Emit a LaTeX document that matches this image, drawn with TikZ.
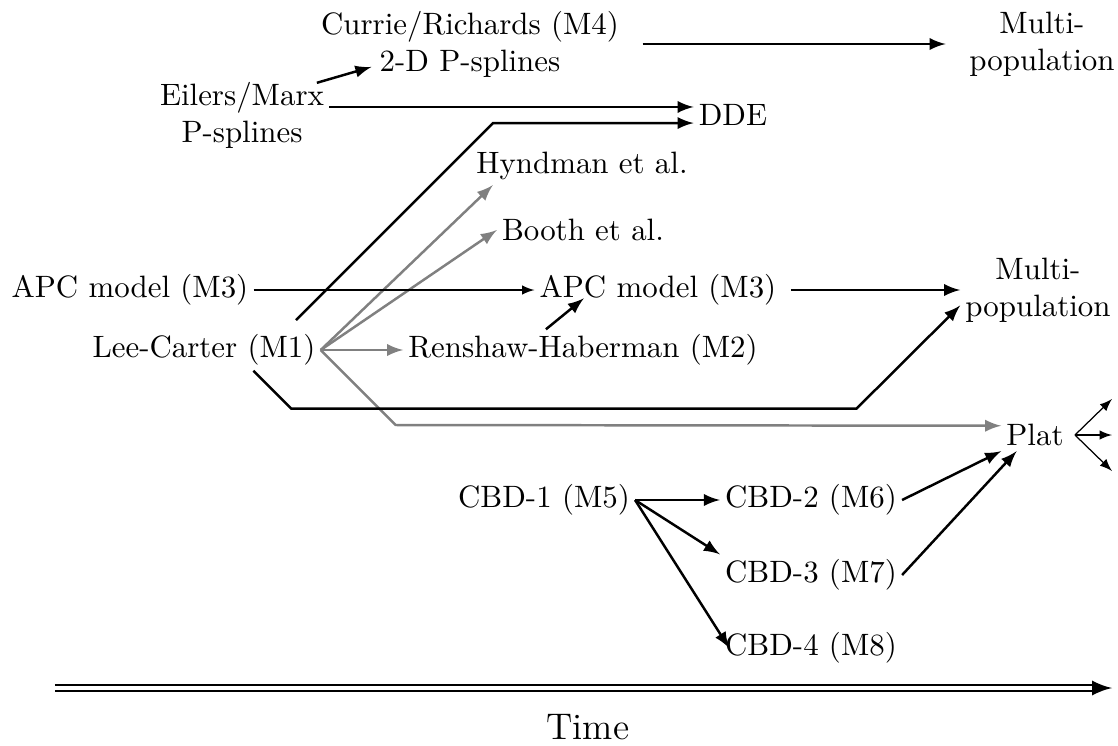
\documentclass[tikz,border=0pt]{standalone}
\usetikzlibrary{arrows}
\begin{document}
\begin{tikzpicture}[x=0.3236pt,y=-0.3236pt,inner sep=1.5pt,
  arr/.style={-latex,thick},
  garr/.style={-latex,thick,gray}]
\useasboundingbox (0,0) rectangle (1118,745);
% models
\node[align=center] (crps) at (470,44) {Currie/Richards (M4)\\2-D P-splines};
\node[align=center] (mpa) at (1042,44) {Multi-\\population};
\node[align=center] (eil) at (242,115) {Eilers/Marx\\P-splines};
\node (dde) at (733,115) {DDE};
\node (hyn) at (582,166) {Hyndman et al.};
\node (boo) at (583,230) {Booth et al.};
\node (apca) at (130,290) {APC model (M3)};
\node (apcb) at (658,290) {APC model (M3)};
\node[align=center] (mpb) at (1038,290) {Multi-\\population};
\node (lee) at (204,350) {Lee-Carter (M1)};
\node (ren) at (583,350) {Renshaw-Haberman (M2)};
\node (plat) at (1035,435) {Plat};
\node (cbda) at (544,500) {CBD-1 (M5)};
\node (cbdb) at (811,500) {CBD-2 (M6)};
\node (cbdc) at (811,575) {CBD-3 (M7)};
\node (cbdd) at (811,648) {CBD-4 (M8)};
\coordinate (ddet) at ([yshift=2.6pt]dde.west);
\coordinate (ddeb) at ([yshift=-2.6pt]dde.west);
\coordinate (platg) at ([yshift=3pt]plat.west);
% connectors
\draw[arr] ([xshift=-4pt,yshift=-2pt]eil.north east) -- ([xshift=18pt,yshift=5pt]crps.south west);
\draw[arr,shorten <=6pt,shorten >=6pt] (crps) -- (mpa);
\draw[arr] (ddet -| eil.east) -- (ddet);
\draw[arr] ([xshift=-8pt,yshift=3pt]lee.north east) -- ++(197,-197) -- (ddeb);
\draw[garr] (lee.east) -- ([xshift=7pt]hyn.south west);
\draw[garr] (lee.east) -- (boo.west);
\draw[garr] (lee) -- (ren);
\draw[garr] (lee.east) -- ++(75,75) -- (platg);
\draw[-latex] (apca) -- (apcb);
\draw[arr,shorten <=3pt] (apcb) -- (mpb);
\draw[arr] ([xshift=-12pt]ren.north) -- ([xshift=-24pt,yshift=4pt]apcb.south);
\draw[arr] ([xshift=16pt]lee.south) -- ++(38,38) -- ++(565,0) -- ([yshift=-5pt]mpb.west);
\draw[-latex] ([xshift=2pt]plat.east) -- ++(37,-36);
\draw[-latex] ([xshift=2pt]plat.east) -- ++(37,0);
\draw[-latex] ([xshift=2pt]plat.east) -- ++(37,36);
\draw[arr] (cbda) -- (cbdb);
\draw[arr] (cbda.east) -- (cbdc.north west);
\draw[arr] (cbda.east) -- ([xshift=3pt]cbdd.west);
\draw[arr] (cbdb.east) -- (plat.south west);
\draw[arr] (cbdc.east) -- ([xshift=5pt]plat.south west);
% time axis
\coordinate (t0) at (55,688);
\coordinate (t1) at (1112,688);
\draw[double,double distance=1.2pt,thick,-latex] (t0) -- (t1);
\node[font=\large] (time) at (588,727) {Time};
\end{tikzpicture}
\end{document}
